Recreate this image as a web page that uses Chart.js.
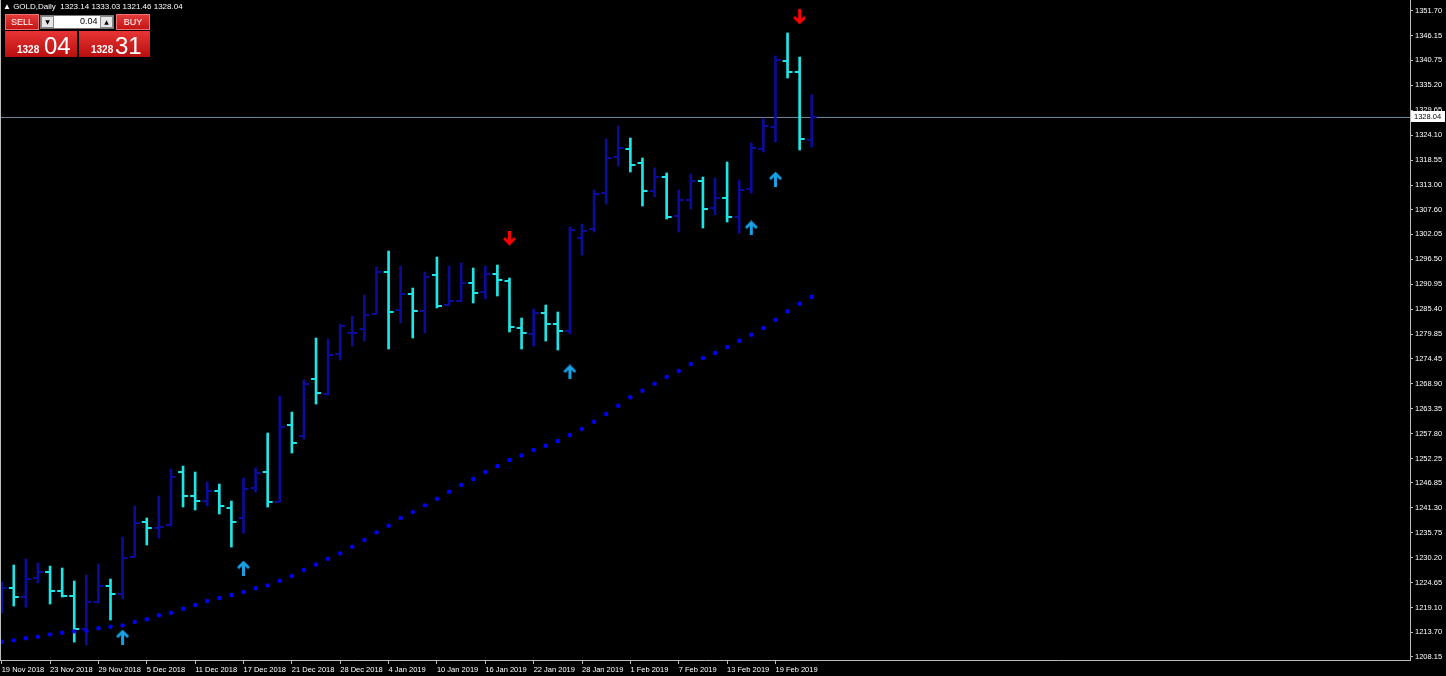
<!DOCTYPE html>
<html>
<head>
<meta charset="utf-8">
<script src="https://cdn.jsdelivr.net/npm/chart.js@4.4.0/dist/chart.umd.min.js"></script>
<style>
html, body { margin: 0; padding: 0; background: #000; overflow: hidden; }
#wrap { position: relative; width: 1446px; height: 676px; }
#wrap canvas { position: absolute; left: 0; top: 0; }
.txt { position: absolute; color: #fff; font-family: "Liberation Sans", sans-serif; font-size: 8px; white-space: pre; }
.btn { position: absolute; top: 14px; height: 16px; box-sizing: border-box; background: linear-gradient(#e63b3b, #c21616);
       border: 1px solid #f07070; color: #fff; font: 9px "Liberation Sans", sans-serif; line-height: 14px; text-align: center; }
.big { position: absolute; top: 31px; height: 26px; background: linear-gradient(#e83434, #b90f0f); color: #fff; font-family: "Liberation Sans", sans-serif; }
.big .s { position: absolute; top: 13px; font-size: 10px; font-weight: bold; }
.big .l { position: absolute; top: 1px; font-size: 24px; }
.spin { position: absolute; top: 16px; width: 13px; height: 12px; background: #e6e6e6; border: 1px solid #888; box-sizing: border-box;
        font: 6px "DejaVu Sans", sans-serif; color: #000; text-align: center; line-height: 10px; }
</style>
</head>
<body>
<div id="wrap">
  <canvas id="gold" width="1446" height="676"></canvas>
  <div class="txt" style="left:3px;top:2px;">▲ GOLD,Daily  1323.14 1333.03 1321.46 1328.04</div>
  <div class="btn" style="left:5px;width:34px;">SELL</div>
  <div style="position:absolute;left:40px;top:15px;width:74px;height:14px;background:#fff;border:1px solid #777;box-sizing:border-box;"></div>
  <div class="spin" style="left:41px;">▼</div>
  <div class="txt" style="left:80px;top:16px;color:#000;font-size:9px;">0.04</div>
  <div class="spin" style="left:100px;">▲</div>
  <div class="btn" style="left:116px;width:34px;">BUY</div>
  <div class="big" style="left:5px;width:72px;"><span class="s" style="left:12px;">1328</span><span class="l" style="left:39px;">04</span></div>
  <div class="big" style="left:79px;width:71px;"><span class="s" style="left:12px;">1328</span><span class="l" style="left:36px;">31</span></div>
</div>
<script>
// ---- daily bars, 19 Nov 2018 .. 22 Feb 2019 ----
var dates = ["19 Nov 2018","20 Nov 2018","21 Nov 2018","22 Nov 2018","23 Nov 2018","26 Nov 2018","27 Nov 2018","28 Nov 2018","29 Nov 2018","30 Nov 2018",
  "3 Dec 2018","4 Dec 2018","5 Dec 2018","6 Dec 2018","7 Dec 2018","10 Dec 2018","11 Dec 2018","12 Dec 2018","13 Dec 2018","14 Dec 2018",
  "17 Dec 2018","18 Dec 2018","19 Dec 2018","20 Dec 2018","21 Dec 2018","24 Dec 2018","26 Dec 2018","27 Dec 2018","28 Dec 2018","31 Dec 2018",
  "2 Jan 2019","3 Jan 2019","4 Jan 2019","7 Jan 2019","8 Jan 2019","9 Jan 2019","10 Jan 2019","11 Jan 2019","14 Jan 2019","15 Jan 2019",
  "16 Jan 2019","17 Jan 2019","18 Jan 2019","21 Jan 2019","22 Jan 2019","23 Jan 2019","24 Jan 2019","25 Jan 2019","28 Jan 2019","29 Jan 2019",
  "30 Jan 2019","31 Jan 2019","1 Feb 2019","4 Feb 2019","5 Feb 2019","6 Feb 2019","7 Feb 2019","8 Feb 2019","11 Feb 2019","12 Feb 2019",
  "13 Feb 2019","14 Feb 2019","15 Feb 2019","18 Feb 2019","19 Feb 2019","20 Feb 2019","21 Feb 2019","22 Feb 2019"];

var open = [1219.70,1223.47,1221.47,1225.70,1227.03,1222.81,1221.70,1214.36,1220.36,1223.92,
  1222.14,1230.36,1238.14,1236.92,1237.47,1249.25,1243.92,1242.81,1245.03,1241.25,
  1239.03,1245.70,1249.25,1242.58,1259.70,1257.25,1269.92,1266.58,1275.47,1280.14,
  1281.03,1284.36,1293.70,1285.25,1288.81,1285.03,1293.03,1286.36,1287.25,1291.25,
  1289.25,1293.25,1291.70,1281.25,1279.92,1284.58,1282.14,1280.58,1301.25,1303.25,
  1311.25,1319.25,1321.03,1317.92,1311.70,1314.81,1306.14,1309.70,1313.92,1307.92,
  1310.14,1305.92,1312.14,1321.03,1325.92,1340.58,1338.14,1323.14];

var high = [1224.81,1228.58,1229.92,1229.03,1228.36,1227.92,1225.03,1226.36,1228.81,1225.47,
  1234.81,1241.70,1239.03,1243.92,1249.92,1250.58,1249.25,1247.03,1246.58,1242.81,
  1247.92,1250.14,1257.92,1266.14,1262.58,1269.70,1279.03,1278.81,1282.14,1283.92,
  1288.58,1294.81,1298.36,1295.03,1290.14,1293.70,1297.03,1295.03,1295.70,1294.58,
  1295.03,1295.25,1292.36,1283.47,1285.47,1286.36,1284.81,1303.70,1304.36,1311.92,
  1323.25,1326.14,1323.47,1319.03,1316.81,1315.70,1311.92,1315.47,1314.81,1314.58,
  1318.14,1314.14,1322.36,1327.70,1341.70,1346.81,1341.47,1333.03];

var low = [1217.92,1219.47,1219.25,1224.58,1219.92,1221.47,1211.47,1210.81,1220.14,1216.36,
  1221.03,1230.36,1233.03,1234.58,1237.25,1241.47,1240.81,1241.70,1239.92,1232.58,
  1235.70,1244.81,1241.47,1242.58,1253.47,1256.58,1264.36,1266.36,1274.14,1277.25,
  1278.36,1284.36,1276.58,1282.36,1279.03,1280.14,1285.70,1286.36,1287.03,1286.81,
  1287.70,1288.36,1280.36,1276.58,1277.25,1278.36,1276.36,1279.92,1297.47,1302.58,
  1308.81,1317.25,1315.92,1308.36,1310.36,1305.47,1302.58,1307.70,1303.47,1306.36,
  1304.81,1302.36,1311.25,1320.36,1322.58,1336.81,1320.81,1321.46];

var close = [1223.47,1221.47,1225.47,1227.03,1222.81,1221.70,1214.36,1220.36,1223.92,1222.14,
  1230.14,1237.92,1236.81,1237.14,1248.14,1243.92,1242.81,1245.03,1241.70,1238.14,
  1245.47,1249.03,1242.58,1259.25,1255.70,1268.81,1266.81,1275.25,1281.70,1280.25,
  1284.14,1293.70,1284.81,1288.81,1285.03,1292.58,1286.14,1287.25,1291.25,1289.03,
  1293.25,1291.92,1281.47,1280.14,1284.58,1282.14,1280.58,1303.03,1302.81,1311.03,
  1319.03,1321.25,1317.47,1311.70,1314.81,1305.92,1309.70,1313.92,1307.70,1310.14,
  1305.92,1311.92,1321.25,1326.14,1340.81,1338.14,1323.25,1328.04];

// dotted indicator line
var maLine = [1211.54,1211.85,1212.30,1212.65,1213.18,1213.54,1213.85,1213.98,1214.52,1214.87,
  1215.18,1215.92,1216.52,1217.41,1217.98,1218.87,1219.70,1220.58,1221.25,1221.92,
  1222.58,1223.41,1224.07,1225.10,1226.14,1227.47,1228.70,1229.98,1231.18,1232.65,
  1234.14,1235.85,1237.32,1239.03,1240.36,1241.85,1243.32,1244.87,1246.36,1247.70,
  1249.25,1250.58,1251.92,1252.96,1254.14,1255.10,1256.14,1257.47,1258.81,1260.43,
  1262.14,1263.98,1265.85,1267.32,1268.87,1270.36,1271.70,1273.25,1274.58,1275.70,
  1277.03,1278.43,1279.76,1281.25,1283.10,1284.96,1286.65,1288.14];

// signal arrows
var upIdx = [10, 20, 47, 62, 64];
var upVals = [1212.59, 1227.92, 1271.48, 1303.48, 1314.36];
var downIdx = [42, 66];
var downVals = [1301.25, 1350.37];

var priceTicks = [1351.70,1346.15,1340.75,1335.20,1329.65,1324.10,1318.55,1313.00,1307.60,1302.05,1296.50,1290.95,1285.40,
  1279.85,1274.45,1268.90,1263.35,1257.80,1252.25,1246.85,1241.30,1235.75,1230.20,1224.65,1219.10,1213.70,1208.15];
var dateTicks = [0, 4, 8, 12, 16, 20, 24, 28, 32, 36, 40, 44, 48, 52, 56, 60, 64];

var lastPrice = close[close.length - 1];

var NAVY = '#0b0b9c';
var AQUA = '#1ee6e6';
var AXIS = '#bdbdbd';

function barColor(i) {
    return close[i] >= open[i] ? NAVY : AQUA;
}

function tickImg(color, side) {
    var c = document.createElement('canvas');
    c.width = 12; c.height = 2;
    var g = c.getContext('2d');
    g.fillStyle = color;
    if (side == 'L') g.fillRect(1, 0, 5, 2); else g.fillRect(6, 0, 5, 2);
    return c;
}

function arrowImg(color, down) {
    var c = document.createElement('canvas');
    c.width = 13; c.height = 15;
    var g = c.getContext('2d');
    if (down) { g.translate(0, 15); g.scale(1, -1); }
    g.fillStyle = color;
    g.beginPath();
    g.moveTo(6.5, 0); g.lineTo(13, 6.5); g.lineTo(11, 8.5); g.lineTo(8, 5.5);
    g.lineTo(8, 15); g.lineTo(5, 15); g.lineTo(5, 5.5); g.lineTo(2, 8.5); g.lineTo(0, 6.5);
    g.closePath();
    g.fill();
    return c;
}

var imgs = {
    L: { n: tickImg(NAVY, 'L'), a: tickImg(AQUA, 'L') },
    R: { n: tickImg(NAVY, 'R'), a: tickImg(AQUA, 'R') }
};
var upArrow = arrowImg('#17a2e6', false);
var downArrow = arrowImg('#ff0000', true);

var idx = dates.map(function (d, i) { return i; });

// frame + current price box on the axis
var framePlugin = {
    id: 'frame',
    afterDraw: function (chart) {
        var ctx = chart.ctx, a = chart.chartArea, y = chart.scales.y;
        ctx.save();
        ctx.strokeStyle = AXIS;
        ctx.lineWidth = 1;
        ctx.beginPath();
        ctx.moveTo(a.left + 0.5, a.top);
        ctx.lineTo(a.left + 0.5, a.bottom);
        ctx.stroke();
        var py = Math.round(y.getPixelForValue(lastPrice));
        ctx.fillStyle = '#ffffff';
        ctx.fillRect(a.right + 1, py - 6, 34, 11);
        ctx.fillStyle = '#000000';
        ctx.font = '7.5px "Liberation Sans"';
        ctx.textBaseline = 'middle';
        ctx.fillText(lastPrice.toFixed(2), a.right + 4, py);
        ctx.restore();
    }
};

function noPad(s) {
    s.paddingLeft = 0; s.paddingRight = 0; s.paddingTop = 0; s.paddingBottom = 0;
}

var pxPerBar = 12.09;
var xMin = -1.7 / pxPerBar;

new Chart('gold', {
    type: 'bar',
    data: {
        datasets: [{
            type: 'line',
            data: [{ x: -5, y: lastPrice }, { x: 200, y: lastPrice }],
            borderColor: '#778899',
            borderWidth: 1,
            pointRadius: 0,
            order: 10
        }, {
            type: 'bar',
            data: idx.map(function (i) { return { x: i, y: [low[i], high[i]] }; }),
            backgroundColor: function (c) { return barColor(c.dataIndex); },
            barThickness: 2,
            borderWidth: 0,
            order: 5
        }, {
            type: 'scatter',
            data: idx.map(function (i) { return { x: i, y: open[i] }; }),
            pointStyle: function (c) { return barColor(c.dataIndex) == NAVY ? imgs.L.n : imgs.L.a; },
            pointRadius: 3,
            order: 4
        }, {
            type: 'scatter',
            data: idx.map(function (i) { return { x: i, y: close[i] }; }),
            pointStyle: function (c) { return barColor(c.dataIndex) == NAVY ? imgs.R.n : imgs.R.a; },
            pointRadius: 3,
            order: 4
        }, {
            type: 'scatter',
            data: idx.map(function (i) { return { x: i, y: maLine[i] }; }),
            backgroundColor: '#0000ff',
            borderWidth: 0,
            pointRadius: 2.2,
            order: 3
        }, {
            type: 'scatter',
            data: upIdx.map(function (k, j) { return { x: k, y: upVals[j] }; }),
            pointStyle: upArrow,
            pointRadius: 7,
            order: 2
        }, {
            type: 'scatter',
            data: downIdx.map(function (k, j) { return { x: k, y: downVals[j] }; }),
            pointStyle: downArrow,
            pointRadius: 7,
            order: 2
        }]
    },
    options: {
        responsive: false,
        animation: false,
        events: [],
        layout: { padding: 0, autoPadding: false },
        plugins: { legend: { display: false }, tooltip: { enabled: false } },
        scales: {
            x: {
                type: 'linear',
                min: xMin,
                max: xMin + 1410 / pxPerBar,
                offset: false,
                afterBuildTicks: function (s) { s.ticks = dateTicks.map(function (v) { return { value: v }; }); },
                afterFit: function (s) { s.height = 16; noPad(s); },
                ticks: {
                    autoSkip: false, maxRotation: 0, minRotation: 0, align: 'start', padding: 1,
                    color: '#ffffff', font: { family: 'Liberation Sans', size: 7.5 },
                    callback: function (v) { return dates[v]; }
                },
                grid: { display: true, drawOnChartArea: false, drawTicks: true, tickLength: 4, color: AXIS, offset: false },
                border: { display: true, color: AXIS }
            },
            y: {
                position: 'right',
                min: 1207.48,
                max: 1354.14,
                afterBuildTicks: function (s) { s.ticks = priceTicks.map(function (v) { return { value: v }; }); },
                afterFit: function (s) { s.width = 36; noPad(s); },
                ticks: {
                    padding: 2, color: '#ffffff', font: { family: 'Liberation Sans', size: 7.5 },
                    callback: function (v) { return v.toFixed(2); }
                },
                grid: { display: true, drawOnChartArea: false, drawTicks: true, tickLength: 3, color: AXIS },
                border: { display: true, color: AXIS }
            }
        }
    },
    plugins: [framePlugin]
});
</script>
</body>
</html>
